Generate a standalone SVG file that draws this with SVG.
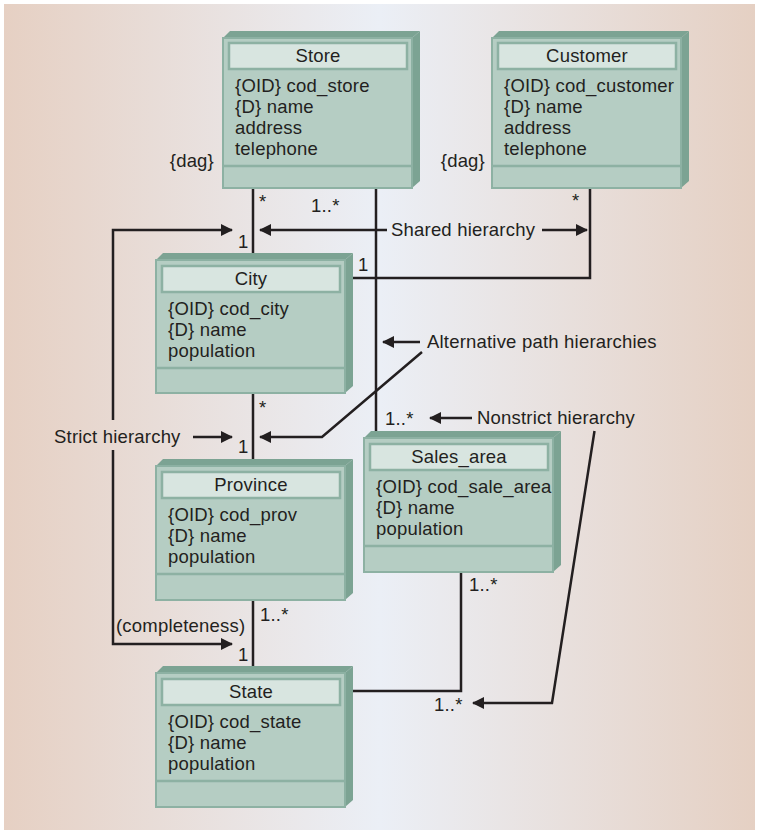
<svg xmlns="http://www.w3.org/2000/svg" width="757" height="831" viewBox="0 0 757 831">
  <defs>
    <linearGradient id="bg" x1="0" y1="0" x2="1" y2="0">
      <stop offset="0" stop-color="#e6d0c3"/>
      <stop offset="0.5" stop-color="#ebeff6"/>
      <stop offset="1" stop-color="#e5d0c3"/>
    </linearGradient>
    <marker id="arrow" viewBox="0 0 12 12" refX="11" refY="6" markerWidth="12" markerHeight="12" markerUnits="userSpaceOnUse" orient="auto">
      <path d="M0,0 L12,6 L0,12 z" fill="#231f20"/>
    </marker>
  </defs>
  <style>
    text { font-family: "Liberation Sans", Arial, sans-serif; font-size: 18.5px; letter-spacing: 0.2px; fill: #231f20; }
    .title { text-anchor: middle; }
    .front { fill: #b5cdc3; stroke: #8db1a3; stroke-width: 2; }
    .bevel { fill: #7ca393; }
    .head { fill: #d8e5e0; stroke: #8db1a3; stroke-width: 2.5; }
    .div { stroke: #8db1a3; stroke-width: 2.5; }
    .ln { fill: none; stroke: #231f20; stroke-width: 2.5; }
    .ar { fill: none; stroke: #231f20; stroke-width: 2.5; marker-end: url(#arrow); }
  </style>

  <!-- background panel -->
  <rect x="4" y="4" width="751" height="826" fill="url(#bg)"/>

  <!-- connectors -->
  <g id="connectors">
    <line class="ln" x1="253" y1="188" x2="253" y2="253"/>
    <line class="ln" x1="376" y1="188" x2="376" y2="432"/>
    <polyline class="ln" points="590,188 590,278 352,278"/>
    <line class="ln" x1="253" y1="393" x2="253" y2="460"/>
    <line class="ln" x1="253" y1="600" x2="253" y2="667"/>
    <polyline class="ln" points="461,572 461,691 352,691"/>

    <!-- annotation arrows -->
    <line class="ar" x1="387" y1="230" x2="260" y2="230"/>
    <line class="ar" x1="542" y1="230" x2="587" y2="230"/>
    <polyline class="ar" points="113,420 113,230 232,230"/>
    <polyline class="ar" points="113,450 113,644 232,644"/>
    <line class="ar" x1="193" y1="437" x2="232" y2="437"/>
    <polyline class="ar" points="422,352 322,437 260,437"/>
    <line class="ar" x1="420" y1="342" x2="383" y2="342"/>
    <line class="ar" x1="472" y1="418" x2="430" y2="418"/>
    <polyline class="ar" points="594.5,431 552,703 473,703"/>
  </g>

  <!-- labels -->
  <g id="labels">
    <text x="214" y="167" text-anchor="end">{dag}</text>
    <text x="485" y="167" text-anchor="end">{dag}</text>
    <text x="259" y="208">*</text>
    <text x="311" y="212">1..*</text>
    <text x="572" y="207">*</text>
    <text x="391" y="236">Shared hierarchy</text>
    <text x="238" y="248">1</text>
    <text x="358" y="271">1</text>
    <text x="427" y="348">Alternative path hierarchies</text>
    <text x="259" y="414">*</text>
    <text x="54" y="443">Strict hierarchy</text>
    <text x="238" y="453">1</text>
    <text x="385" y="425">1..*</text>
    <text x="477" y="424">Nonstrict hierarchy</text>
    <text x="469" y="591">1..*</text>
    <text x="260" y="621">1..*</text>
    <text x="116" y="632">(completeness)</text>
    <text x="238" y="661">1</text>
    <text x="434" y="711">1..*</text>
  </g>

  <!-- Store -->
  <g id="store" transform="translate(223,38)">
    <polygon class="bevel" points="0,0 7,-7 197,-7 189,0"/>
    <polygon class="bevel" points="189,0 197,-7 197,143 189,150"/>
    <rect class="front" x="0" y="0" width="189" height="150"/>
    <rect class="head" x="6" y="5" width="178" height="26"/>
    <text class="title" x="95" y="24">Store</text>
    <text x="12" y="54">{OID} cod_store</text>
    <text x="12" y="75">{D} name</text>
    <text x="12" y="96">address</text>
    <text x="12" y="117">telephone</text>
    <line class="div" x1="0" y1="128" x2="189" y2="128"/>
  </g>

  <!-- Customer -->
  <g id="customer" transform="translate(492,38)">
    <polygon class="bevel" points="0,0 7,-7 197,-7 189,0"/>
    <polygon class="bevel" points="189,0 197,-7 197,143 189,150"/>
    <rect class="front" x="0" y="0" width="189" height="150"/>
    <rect class="head" x="6" y="5" width="178" height="26"/>
    <text class="title" x="95" y="24">Customer</text>
    <text x="12" y="54">{OID} cod_customer</text>
    <text x="12" y="75">{D} name</text>
    <text x="12" y="96">address</text>
    <text x="12" y="117">telephone</text>
    <line class="div" x1="0" y1="128" x2="189" y2="128"/>
  </g>

  <!-- City -->
  <g id="city" transform="translate(156,260)">
    <polygon class="bevel" points="0,0 7,-7 197,-7 189,0"/>
    <polygon class="bevel" points="189,0 197,-7 197,126 189,133"/>
    <rect class="front" x="0" y="0" width="189" height="133"/>
    <rect class="head" x="6" y="6" width="178" height="26"/>
    <text class="title" x="95" y="25">City</text>
    <text x="12" y="55">{OID} cod_city</text>
    <text x="12" y="76">{D} name</text>
    <text x="12" y="97">population</text>
    <line class="div" x1="0" y1="108" x2="189" y2="108"/>
  </g>

  <!-- Province -->
  <g id="province" transform="translate(156,466)">
    <polygon class="bevel" points="0,0 7,-7 197,-7 189,0"/>
    <polygon class="bevel" points="189,0 197,-7 197,127 189,134"/>
    <rect class="front" x="0" y="0" width="189" height="134"/>
    <rect class="head" x="6" y="6" width="178" height="26"/>
    <text class="title" x="95" y="25">Province</text>
    <text x="12" y="55">{OID} cod_prov</text>
    <text x="12" y="76">{D} name</text>
    <text x="12" y="97">population</text>
    <line class="div" x1="0" y1="108" x2="189" y2="108"/>
  </g>

  <!-- Sales_area -->
  <g id="sales_area" transform="translate(364,438)">
    <polygon class="bevel" points="0,0 7,-7 197,-7 189,0"/>
    <polygon class="bevel" points="189,0 197,-7 197,127 189,134"/>
    <rect class="front" x="0" y="0" width="189" height="134"/>
    <rect class="head" x="6" y="6" width="178" height="26"/>
    <text class="title" x="95" y="25">Sales_area</text>
    <text x="12" y="55">{OID} cod_sale_area</text>
    <text x="12" y="76">{D} name</text>
    <text x="12" y="97">population</text>
    <line class="div" x1="0" y1="108" x2="189" y2="108"/>
  </g>

  <!-- State -->
  <g id="state" transform="translate(156,673)">
    <polygon class="bevel" points="0,0 7,-7 197,-7 189,0"/>
    <polygon class="bevel" points="189,0 197,-7 197,127 189,134"/>
    <rect class="front" x="0" y="0" width="189" height="134"/>
    <rect class="head" x="6" y="6" width="178" height="26"/>
    <text class="title" x="95" y="25">State</text>
    <text x="12" y="55">{OID} cod_state</text>
    <text x="12" y="76">{D} name</text>
    <text x="12" y="97">population</text>
    <line class="div" x1="0" y1="108" x2="189" y2="108"/>
  </g>
</svg>
